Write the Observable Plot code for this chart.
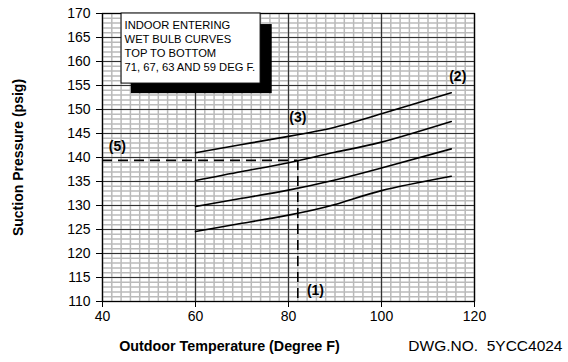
<!DOCTYPE html>
<html>
<head>
<meta charset="utf-8">
<script src="https://cdn.jsdelivr.net/npm/d3@7"></script>
<script src="https://cdn.jsdelivr.net/npm/@observablehq/plot@0.6"></script>
<style>
  html, body { margin: 0; padding: 0; background: #fff; }
  svg { display: block; font-family: "Liberation Sans", Arial, sans-serif; }
</style>
</head>
<body>
<div id="chart"></div>
<script>
// ---- Data ----
const temps = [60, 70, 80, 90, 100, 115];
const wb71 = [141.0, 142.7, 144.4, 146.3, 149.1, 153.5];
const wb67 = [135.2, 137.1, 138.9, 141.1, 143.2, 147.5];
const wb63 = [129.8, 131.5, 133.2, 135.3, 137.8, 141.8];
const wb59 = [124.6, 126.3, 128.0, 130.2, 133.1, 136.1];
const wetBulbs = ["71", "67", "63", "59"];

const xTicks = [40, 60, 80, 100, 120];
const yTicks = [110, 115, 120, 125, 130, 135, 140, 145, 150, 155, 160, 165, 170];

// operating point read-off (dashed guide)
const opTemp = 82;
const opPressure = 139.4;

const legendLines = ["INDOOR ENTERING", "WET BULB CURVES", "TOP TO BOTTOM", "71, 67, 63 AND 59 DEG F."];
const callouts = [
  {label: "(1)", x: 85.8, y: 112.3},
  {label: "(2)", x: 116.4, y: 156.9},
  {label: "(3)", x: 82, y: 148.3},
  {label: "(5)", x: 43.2, y: 142.2}
];
const yTitle = "Suction Pressure (psig)";
const xTitle = "Outdoor Temperature (Degree F)";
const drawingNo = "DWG.NO.  5YCC4024";

// ---- build table ----
const series = [wb71, wb67, wb63, wb59];
const rows = [];
series.forEach((vals, i) => vals.forEach((v, j) => rows.push({wb: wetBulbs[i], t: temps[j], p: v})));

const minorX = d3.range(40, 121, 2);
const minorY = d3.range(110, 171, 1);
const majorX = d3.range(40, 121, 20);
const majorY = d3.range(110, 171, 5);

// legend box anchored in data space
const legendBox = {x1: 44.1, x2: 74.0, y1: 155.4, y2: 170};
const legendShadow = {x1: 46.2, x2: 76.5, y1: 153.3, y2: 167.7};

const chart = Plot.plot({
  width: 568,
  height: 362,
  marginTop: 13,
  marginBottom: 61,
  marginLeft: 102,
  marginRight: 94,
  style: {fontFamily: "'Liberation Sans', Arial, sans-serif", background: "#fff"},
  x: {domain: [40, 120]},
  y: {domain: [110, 170]},
  marks: [
    Plot.ruleX(minorX, {stroke: "#bababa", strokeWidth: 1.5, strokeOpacity: 1}),
    Plot.ruleY(minorY, {stroke: "#bababa", strokeWidth: 1.5, strokeOpacity: 1}),
    Plot.ruleX(majorX, {stroke: "#333", strokeWidth: 1.2}),
    Plot.ruleY(majorY, {stroke: "#333", strokeWidth: 1.2}),
    Plot.frame({stroke: "#000", strokeWidth: 1.2}),
    Plot.axisY({ticks: yTicks, tickSize: 6, tickPadding: 6, fontSize: 14, label: null, tickFormat: d3.format("d")}),
    Plot.axisX({ticks: xTicks, tickSize: 6, tickPadding: 4, fontSize: 14, label: null, tickFormat: d3.format("d")}),
    // legend box with shadow
    Plot.rect([legendShadow], {x1: "x1", x2: "x2", y1: "y1", y2: "y2", fill: "#000"}),
    Plot.rect([legendBox], {x1: "x1", x2: "x2", y1: "y1", y2: "y2", fill: "#fff", stroke: "#000", strokeWidth: 1}),
    Plot.text([legendLines.join("\n")], {x: 44.75, y: 168.9, text: d => d, textAnchor: "start", lineAnchor: "top", fontSize: 11.2, lineHeight: 1.25, fill: "#000"}),
    // dashed operating guide
    Plot.ruleY([opPressure], {x1: 40, x2: opTemp, stroke: "#000", strokeWidth: 1.6, strokeDasharray: "10,6"}),
    Plot.ruleX([opTemp], {y1: opPressure, y2: 110, stroke: "#000", strokeWidth: 1.6, strokeDasharray: "10,6"}),
    // curves
    Plot.line(rows, {x: "t", y: "p", z: "wb", stroke: "#000", strokeWidth: 1.6, curve: "natural"}),
    // callouts
    Plot.text(callouts, {x: "x", y: "y", text: "label", fontSize: 14, fontWeight: "bold", fill: "#000"}),
    // titles
    Plot.text([yTitle], {frameAnchor: "left", textAnchor: "middle", rotate: -90, dx: -84, fontSize: 14, fontWeight: "bold", fill: "#000"}),
    Plot.text([xTitle], {frameAnchor: "bottom-left", textAnchor: "middle", dx: 127, dy: 49, fontSize: 14.3, fontWeight: "bold", fill: "#000"}),
    Plot.text([drawingNo], {frameAnchor: "bottom-right", dx: 88, dy: 49, textAnchor: "end", fontSize: 15.5, fill: "#000"})
  ]
});
document.getElementById("chart").appendChild(chart);
</script>
</body>
</html>
